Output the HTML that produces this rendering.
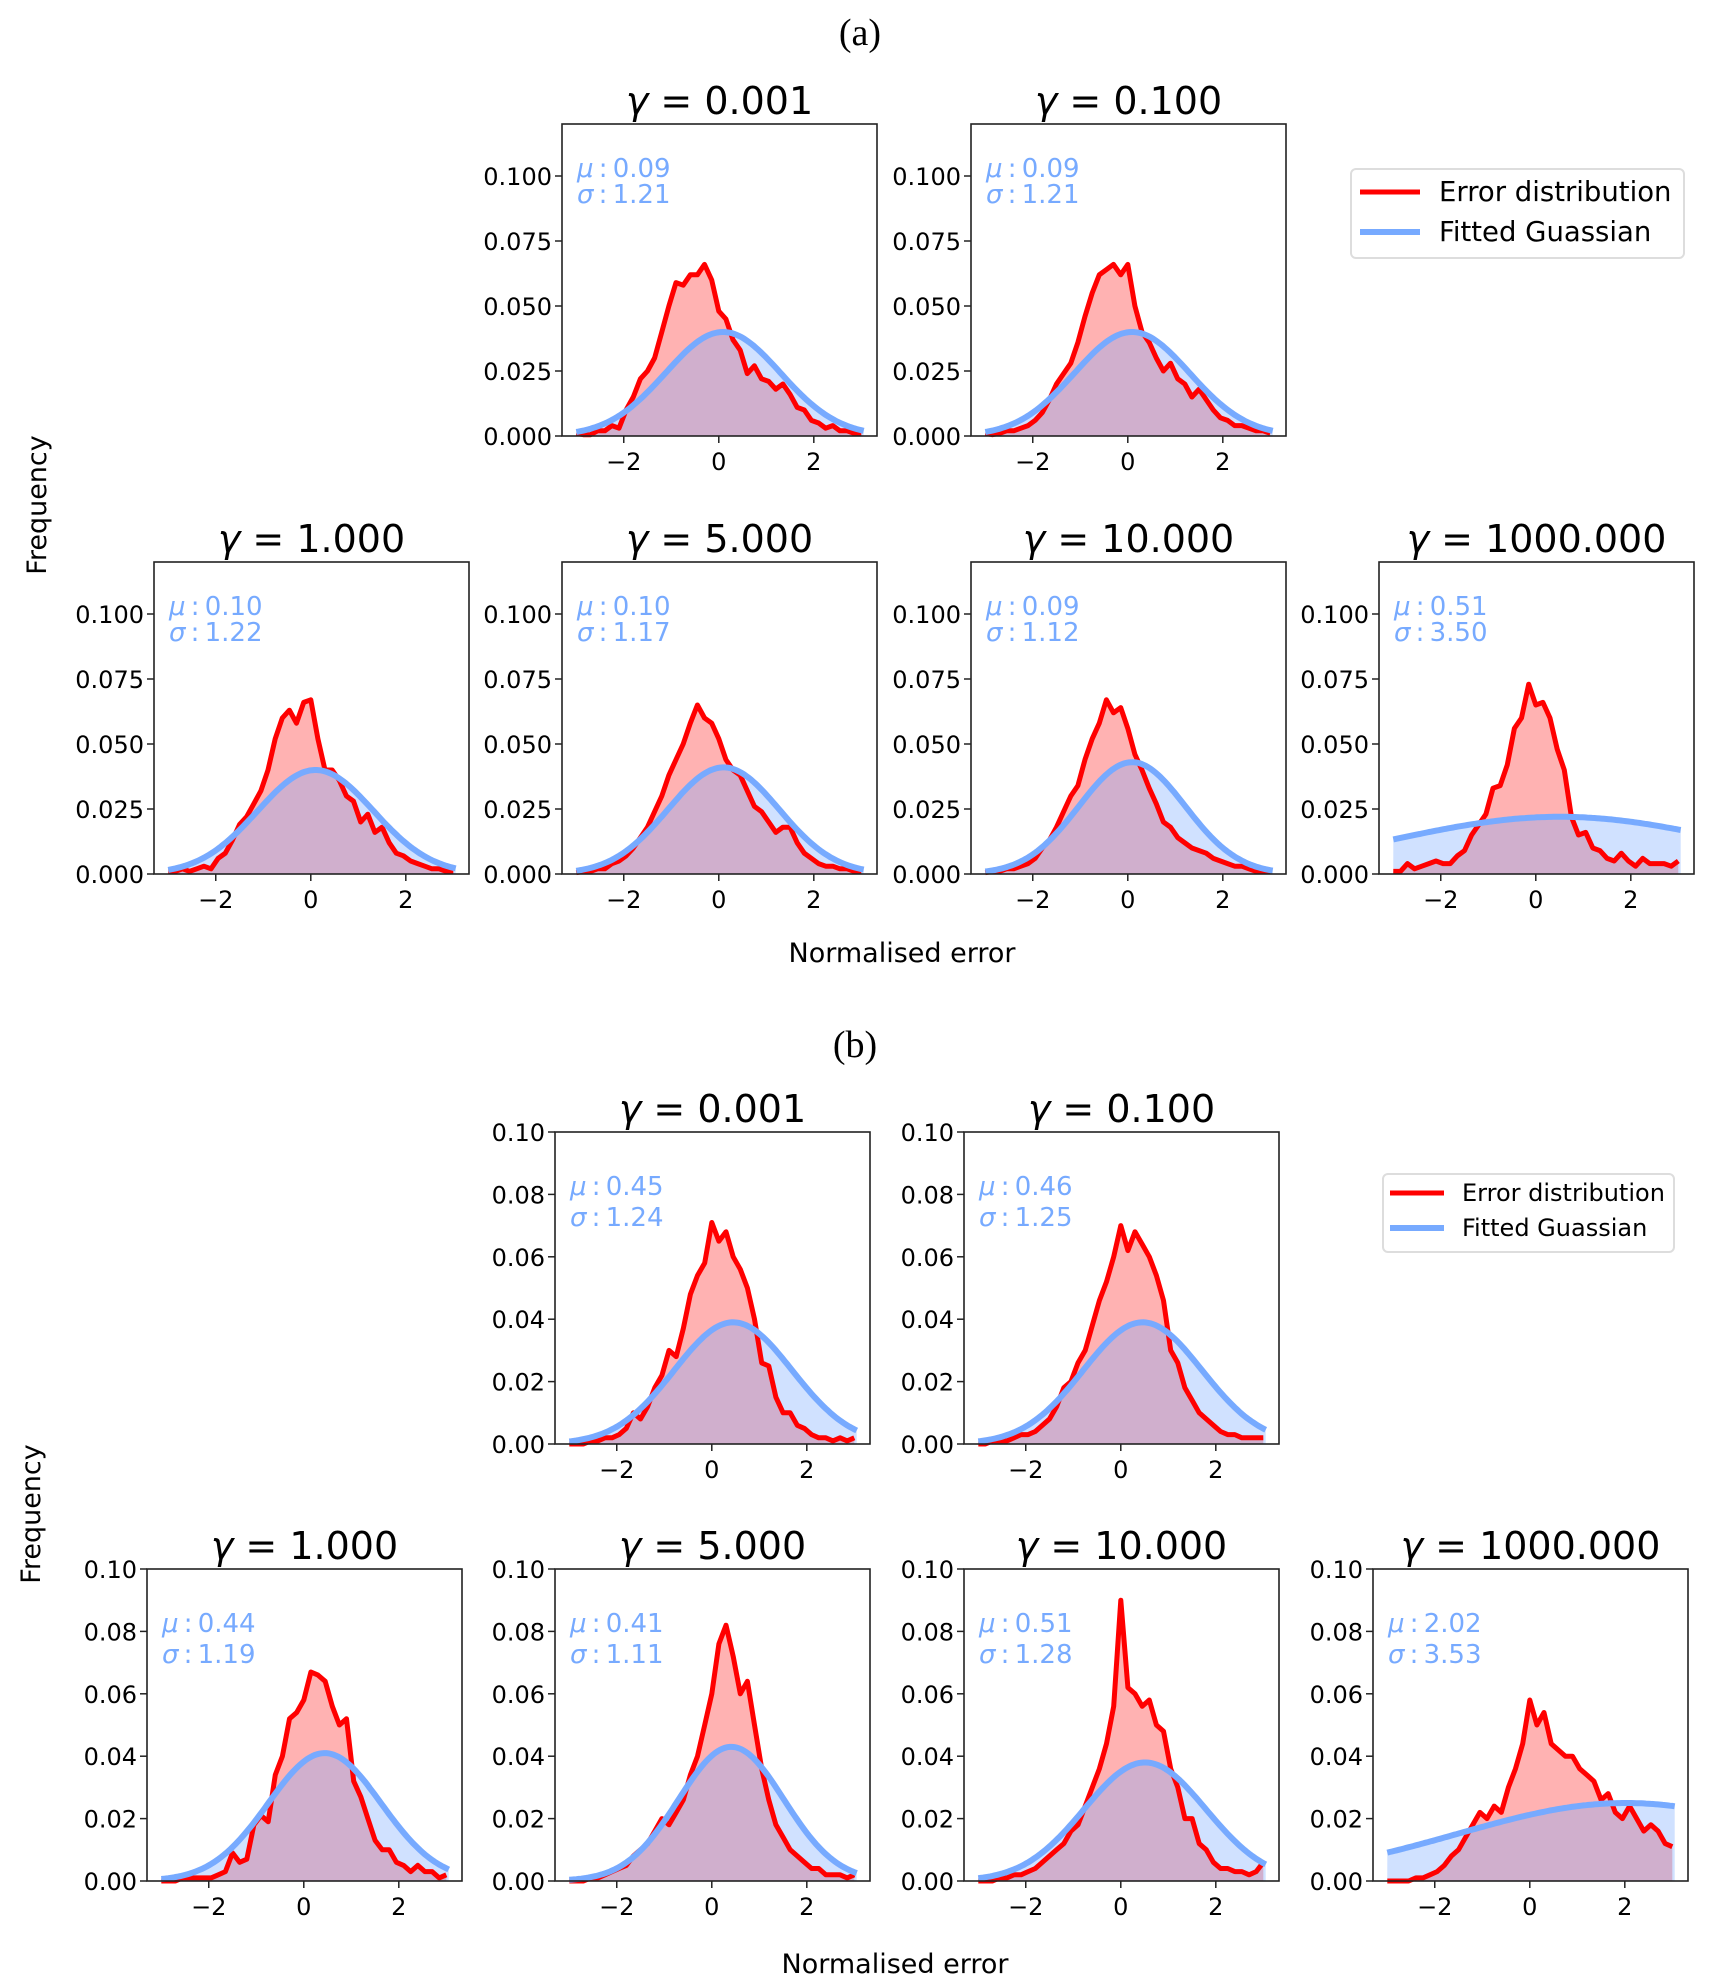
<!DOCTYPE html>
<html><head><meta charset="utf-8"><style>
html,body{margin:0;padding:0;background:#fff;}
svg{display:block;font-family:"DejaVu Sans","Liberation Sans",sans-serif;}
</style></head><body>
<svg id="fig" width="1713" height="1985" viewBox="0 0 1713 1985" xmlns="http://www.w3.org/2000/svg">
<rect width="1713" height="1985" fill="#fff"/>
<text x="860" y="45" font-family="'Liberation Serif',serif" font-size="38" text-anchor="middle">(a)</text>
<text x="855" y="1057" font-family="'Liberation Serif',serif" font-size="38" text-anchor="middle">(b)</text>
<text transform="translate(46,505) rotate(-90)" font-size="27" text-anchor="middle">Frequency</text>
<text transform="translate(40,1514) rotate(-90)" font-size="27" text-anchor="middle">Frequency</text>
<text x="902" y="962" font-size="27" text-anchor="middle">Normalised error</text>
<text x="895" y="1973" font-size="27" text-anchor="middle">Normalised error</text>
<g id="legend-a">
<rect x="1351" y="169" width="333" height="89" rx="5" fill="#fff" stroke="#ddd" stroke-width="2"/>
<line x1="1360" y1="192" x2="1420" y2="192" stroke="#ff0000" stroke-width="5"/>
<text x="1439" y="201" font-size="27.5">Error distribution</text>
<line x1="1360" y1="232" x2="1420" y2="232" stroke="#77aaff" stroke-width="6"/>
<text x="1439" y="241" font-size="27.5">Fitted Guassian</text>
</g>
<g id="legend-b">
<rect x="1383" y="1174" width="291" height="78" rx="5" fill="#fff" stroke="#ddd" stroke-width="2"/>
<line x1="1390" y1="1193" x2="1444" y2="1193" stroke="#ff0000" stroke-width="5"/>
<text x="1462" y="1201" font-size="24">Error distribution</text>
<line x1="1390" y1="1228" x2="1444" y2="1228" stroke="#77aaff" stroke-width="6"/>
<text x="1462" y="1236" font-size="24">Fitted Guassian</text>
</g>
</svg>
<script>
// ---- data ----
const gammaLabels = ["0.001","0.100","1.000","5.000","10.000","1000.000"];
const muA = [0.09,0.09,0.10,0.10,0.09,0.51];
const sigmaA = [1.21,1.21,1.22,1.17,1.12,3.50];
const peakA = [0.040,0.040,0.040,0.041,0.043,0.022];
const muB = [0.45,0.46,0.44,0.41,0.51,2.02];
const sigmaB = [1.24,1.25,1.19,1.11,1.28,3.53];
const peakB = [0.039,0.039,0.041,0.043,0.038,0.025];
const xTicks = [-2,0,2];
const xTickLabels = ["\u22122","0","2"];
const yTicksA = [0,0.025,0.05,0.075,0.1];
const yTickLabelsA = ["0.000","0.025","0.050","0.075","0.100"];
const yTicksB = [0,0.02,0.04,0.06,0.08,0.1];
const yTickLabelsB = ["0.00","0.02","0.04","0.06","0.08","0.10"];
const errA0 = [0.001,0.0005,0.0005,0.002,0.002,0.004,0.003,0.010,0.015,0.022,0.025,0.030,0.040,0.050,0.059,0.058,0.062,0.062,0.066,0.060,0.048,0.045,0.037,0.033,0.024,0.027,0.022,0.021,0.018,0.020,0.016,0.011,0.010,0.006,0.005,0.003,0.004,0.002,0.002,0.001,0.001];
const errA1 = [0.001,0.0005,0.001,0.002,0.002,0.003,0.004,0.006,0.009,0.014,0.020,0.024,0.028,0.036,0.046,0.055,0.062,0.064,0.066,0.062,0.066,0.050,0.040,0.036,0.030,0.025,0.028,0.022,0.020,0.015,0.018,0.014,0.010,0.007,0.006,0.004,0.004,0.003,0.002,0.002,0.001];
const errA2 = [0.001,0.001,0.002,0.001,0.002,0.003,0.002,0.006,0.008,0.013,0.019,0.022,0.027,0.032,0.040,0.052,0.060,0.063,0.058,0.066,0.067,0.052,0.040,0.040,0.036,0.030,0.028,0.020,0.023,0.016,0.018,0.012,0.008,0.007,0.005,0.004,0.003,0.002,0.002,0.001,0.001];
const errA3 = [0.0005,0.001,0.001,0.002,0.002,0.004,0.005,0.007,0.010,0.014,0.018,0.024,0.030,0.038,0.044,0.050,0.058,0.065,0.060,0.058,0.052,0.044,0.040,0.038,0.032,0.026,0.024,0.020,0.016,0.018,0.018,0.012,0.008,0.006,0.004,0.003,0.003,0.002,0.002,0.001,0.001];
const errA4 = [0.0005,0.001,0.001,0.002,0.002,0.003,0.004,0.006,0.010,0.013,0.018,0.024,0.030,0.034,0.044,0.052,0.058,0.067,0.062,0.064,0.056,0.046,0.040,0.033,0.027,0.020,0.018,0.014,0.012,0.010,0.009,0.008,0.006,0.005,0.004,0.003,0.003,0.002,0.001,0.001,0.001];
const errA5 = [0.001,0.001,0.004,0.002,0.003,0.004,0.005,0.004,0.004,0.007,0.009,0.015,0.019,0.023,0.033,0.034,0.042,0.056,0.060,0.073,0.065,0.066,0.060,0.048,0.040,0.022,0.015,0.016,0.010,0.009,0.006,0.005,0.008,0.005,0.003,0.006,0.004,0.004,0.004,0.003,0.005];
const errB0 = [0,0,0,0.001,0.001,0.002,0.002,0.003,0.005,0.010,0.008,0.012,0.018,0.022,0.030,0.028,0.037,0.048,0.054,0.058,0.071,0.065,0.068,0.060,0.056,0.050,0.040,0.026,0.025,0.015,0.010,0.010,0.006,0.005,0.003,0.002,0.002,0.001,0.002,0.001,0.002];
const errB1 = [0,0,0.001,0.001,0.001,0.002,0.003,0.003,0.004,0.006,0.008,0.012,0.018,0.020,0.026,0.030,0.038,0.046,0.052,0.060,0.070,0.062,0.068,0.064,0.060,0.054,0.046,0.030,0.026,0.018,0.014,0.010,0.008,0.006,0.004,0.003,0.003,0.002,0.002,0.002,0.002];
const errB2 = [0,0,0,0.001,0.001,0.001,0.001,0.001,0.002,0.003,0.009,0.006,0.007,0.018,0.021,0.019,0.034,0.040,0.052,0.054,0.058,0.067,0.066,0.064,0.056,0.050,0.052,0.032,0.027,0.020,0.013,0.010,0.010,0.006,0.005,0.003,0.005,0.003,0.003,0.001,0.002];
const errB3 = [0,0,0,0.001,0.001,0.002,0.003,0.004,0.005,0.008,0.010,0.012,0.016,0.020,0.018,0.022,0.026,0.034,0.040,0.050,0.060,0.076,0.082,0.072,0.060,0.064,0.050,0.036,0.026,0.018,0.014,0.010,0.008,0.006,0.004,0.004,0.002,0.002,0.002,0.001,0.002];
const errB4 = [0,0,0,0.001,0.001,0.002,0.002,0.003,0.004,0.006,0.008,0.010,0.012,0.016,0.018,0.024,0.030,0.036,0.044,0.056,0.090,0.062,0.060,0.056,0.058,0.050,0.048,0.036,0.030,0.020,0.020,0.012,0.010,0.006,0.004,0.004,0.003,0.003,0.002,0.003,0.006];
const errB5 = [0,0,0,0,0.001,0.001,0.002,0.003,0.005,0.008,0.010,0.014,0.018,0.022,0.020,0.024,0.022,0.030,0.036,0.044,0.058,0.050,0.054,0.044,0.042,0.040,0.040,0.036,0.034,0.032,0.026,0.028,0.022,0.020,0.024,0.020,0.016,0.018,0.016,0.012,0.011];

// ---- layout ----
const NS = "http://www.w3.org/2000/svg";
const svg = document.getElementById("fig");
const W = 315, H = 312, XMIN = -3.3, XMAX = 3.33;
function mk(tag, attrs, parent) {
  const e = document.createElementNS(NS, tag);
  for (const k in attrs) e.setAttribute(k, attrs[k]);
  (parent || svg).appendChild(e);
  return e;
}
function drawPanel(fig, idx, left, top, ymax, yTicks, yLabels, err, mu, sg, pk, muDy, sgDy) {
  const g = mk("g", {});
  
  
  const sx = x => left + (x - XMIN) / (XMAX - XMIN) * W;
  const sy = y => top + H - y / ymax * H;
  const n = err.length;
  const xs = err.map((_, i) => -3 + 6 * i / (n - 1));
  const gx = [];
  for (let i = 0; i <= 120; i++) gx.push(-3 + 6.05 * i / 120);
  const gy = gx.map(x => pk * Math.exp(-(x - mu) * (x - mu) / (2 * sg * sg)));
  const errPts = xs.map((x, i) => sx(x).toFixed(1) + "," + sy(err[i]).toFixed(1)).join(" ");
  const gPts = gx.map((x, i) => sx(x).toFixed(1) + "," + sy(gy[i]).toFixed(1)).join(" ");
  const rf = mk("polygon", {points: sx(xs[0]) + "," + sy(0) + " " + errPts + " " + sx(xs[n - 1]) + "," + sy(0), fill: "#ff0000", "fill-opacity": "0.3"}, g);
  
  
  const bf = mk("polygon", {points: sx(gx[0]) + "," + sy(0) + " " + gPts + " " + sx(gx[gx.length - 1]) + "," + sy(0), fill: "#77aaff", "fill-opacity": "0.35"}, g);
  
  
  const rl = mk("polyline", {points: errPts, fill: "none", stroke: "#ff0000", "stroke-width": "5", "stroke-linejoin": "round"}, g);
  
  
  const bl = mk("polyline", {points: gPts, fill: "none", stroke: "#77aaff", "stroke-width": "6"}, g);
  
  
  const fr = mk("rect", {x: left, y: top, width: W, height: H, fill: "none", stroke: "#222", "stroke-width": "1.6"}, g);
  
  
  xTicks.forEach((t, i) => {
    const X = sx(t);
    mk("line", {x1: X, y1: top + H, x2: X, y2: top + H + 7, stroke: "#222", "stroke-width": "1.5"}, g);
    const tl = mk("text", {x: X, y: top + H + 34, "font-size": "24", "text-anchor": "middle"}, g);
    tl.textContent = xTickLabels[i];
    
    
  });
  yTicks.forEach((t, i) => {
    const Y = sy(t);
    mk("line", {x1: left - 7, y1: Y, x2: left, y2: Y, stroke: "#222", "stroke-width": "1.5"}, g);
    const tl = mk("text", {x: left - 10, y: Y + 9, "font-size": "24", "text-anchor": "end"}, g);
    tl.textContent = yLabels[i];
    
    
  });
  const title = mk("text", {x: left + W / 2, y: top - 10, "font-size": "38", "text-anchor": "middle"}, g);
  title.innerHTML = '<tspan font-style="italic">\u03B3</tspan> = ' + gammaLabels[idx];
  
  
  const m = mk("text", {x: left + 15, y: top + muDy, "font-size": "26", fill: "#77aaff"}, g);
  m.innerHTML = '<tspan font-style="italic">\u03BC</tspan>\u2009:\u2009' + mu.toFixed(2);
  
  
  const s = mk("text", {x: left + 15, y: top + sgDy, "font-size": "26", fill: "#77aaff"}, g);
  s.innerHTML = '<tspan font-style="italic">\u03C3</tspan>\u2009:\u2009' + sg.toFixed(2);
  
  
}
const errsA = [errA0, errA1, errA2, errA3, errA4, errA5];
const errsB = [errB0, errB1, errB2, errB3, errB4, errB5];
const posA = [[562,124],[971,124],[154,562],[562,562],[971,562],[1379,562]];
const posB = [[555,1132],[964,1132],[147,1569],[555,1569],[964,1569],[1373,1569]];
for (let i = 0; i < 6; i++) {
  drawPanel("a", i, posA[i][0], posA[i][1], 0.12, yTicksA, yTickLabelsA, errsA[i], muA[i], sigmaA[i], peakA[i], 53, 79);
  drawPanel("b", i, posB[i][0], posB[i][1], 0.1, yTicksB, yTickLabelsB, errsB[i], muB[i], sigmaB[i], peakB[i], 63, 94);
}
</script>
</body></html>
